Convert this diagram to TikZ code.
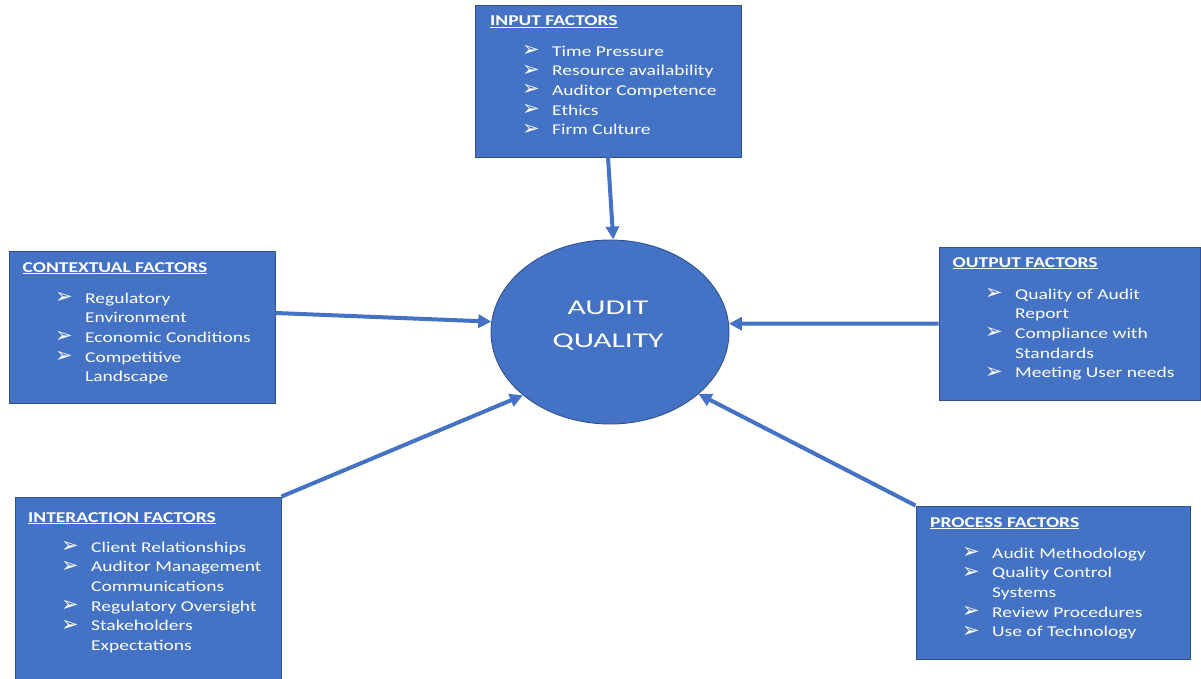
\documentclass[tikz,border=0pt]{standalone}
\usepackage{fontspec}
\setmainfont[FakeStretch=1.3]{Carlito}
\newfontfamily\centrefont[FakeStretch=1.5]{Carlito}
\newfontfamily\symfont{DejaVu Sans}
\usetikzlibrary{shapes.geometric,arrows.meta}

\definecolor{boxblue}{HTML}{4472C4}
\definecolor{boxedge}{HTML}{2F528F}

% arrowhead bullet, followed by the item text
\newcommand\bul{\makebox[30pt][l]{\raisebox{-0.5pt}{\symfont\fontsize{21}{21}\selectfont ➢}}}
\newcommand\factorlist[1]{\begin{tabular}[t]{@{}l@{}l@{}}#1\end{tabular}}

\begin{document}
\begin{tikzpicture}[x=1pt,y=-1pt,
  factorbox/.style={rectangle,draw=boxedge,line width=0.9pt,fill=boxblue,inner sep=0pt},
  boxtitle/.style={anchor=base west,inner sep=0pt,text=white,
    font=\fontsize{15}{19.7}\selectfont\bfseries},
  boxitems/.style={anchor=base west,inner sep=0pt,text=white,
    font=\fontsize{15}{19.7}\selectfont},
  feed/.style={draw=boxblue,line width=4pt,-{Triangle[length=13pt,width=13pt]}}]

\useasboundingbox (0,0) rectangle (1201,678);

% central ellipse
\node[ellipse,draw=boxedge,line width=0.9pt,fill=boxblue,inner sep=0pt,
      minimum width=238pt,minimum height=184pt] (aq) at (610,332) {};
\node[text=white,align=center,inner sep=0pt,font=\centrefont\fontsize{21}{33}\selectfont]
      (aqtext) at (608,326) {AUDIT\\QUALITY};

% input factors
\node[factorbox,minimum width=266pt,minimum height=152pt] (input) at (608,81) {};
\node[boxtitle] (inputtitle) at (490,25.5) {\underline{INPUT FACTORS}};
\node[boxitems] (inputitems) at (522,56) {\factorlist{%
  \bul & Time Pressure\\
  \bul & Resource availability\\
  \bul & Auditor Competence\\
  \bul & Ethics\\
  \bul & Firm Culture}};

% contextual factors
\node[factorbox,minimum width=266pt,minimum height=152pt] (ctx) at (142,327) {};
\node[boxtitle] (ctxtitle) at (22.5,272) {\underline{CONTEXTUAL FACTORS}};
\node[boxitems] (ctxitems) at (55,303) {\factorlist{%
  \bul & Regulatory\\
       & Environment\\
  \bul & Economic Conditions\\
  \bul & Competitive\\
       & Landscape}};

% output factors
\node[factorbox,minimum width=261pt,minimum height=153pt] (out) at (1069.5,323.5) {};
\node[boxtitle] (outtitle) at (952.5,267) {\underline{OUTPUT FACTORS}};
\node[boxitems] (outitems) at (985,299) {\factorlist{%
  \bul & Quality of Audit\\
       & Report\\
  \bul & Compliance with\\
       & Standards\\
  \bul & Meeting User needs}};

% interaction factors
\node[factorbox,minimum width=266pt,minimum height=190pt] (inter) at (148,592) {};
\node[boxtitle] (intertitle) at (28,522) {\underline{INTERACTION FACTORS}};
\node[boxitems] (interitems) at (61,552) {\factorlist{%
  \bul & Client Relationships\\
  \bul & Auditor Management\\
       & Communications\\
  \bul & Regulatory Oversight\\
  \bul & Stakeholders\\
       & Expectations}};

% process factors
\node[factorbox,minimum width=274pt,minimum height=153pt] (proc) at (1053,582.5) {};
\node[boxtitle] (proctitle) at (930,527) {\underline{PROCESS FACTORS}};
\node[boxitems] (procitems) at (962,558) {\factorlist{%
  \bul & Audit Methodology\\
  \bul & Quality Control\\
       & Systems\\
  \bul & Review Procedures\\
  \bul & Use of Technology}};

% connectors into the centre
\draw[feed] (input.south) -- (aq.88);
\draw[feed] (ctx.6) -- (aq.175);
\draw[feed] (out.west) -- (aq.4);
\draw[feed] (inter.north east) -- (aq.216);
\draw[feed] (proc.north west) -- (aq.325);
\end{tikzpicture}
\end{document}
